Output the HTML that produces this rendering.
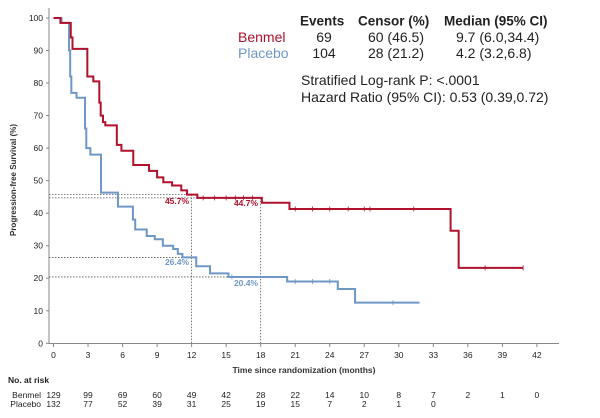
<!DOCTYPE html>
<html><head><meta charset="utf-8"><style>
html,body{margin:0;padding:0;background:#fff;}
svg{display:block;font-family:"Liberation Sans",Arial,sans-serif;}
</style></head><body>
<svg id="s" width="600" height="418" viewBox="0 0 600 418" xmlns="http://www.w3.org/2000/svg">
<g id="g"></g>
<g font-size="13.5" font-weight="bold" fill="#222">
<text x="300" y="25.5">Events</text>
<text x="358" y="25.5">Censor (%)</text>
<text x="444" y="25.5">Median (95% CI)</text>
</g>
<g font-size="14" fill="#222">
<text x="238" y="42" fill="#b0112b">Benmel</text>
<text x="238" y="58" fill="#6f97c6">Placebo</text>
<text x="324" y="42" text-anchor="middle">69</text>
<text x="324" y="58" text-anchor="middle">104</text>
<text x="396" y="42" text-anchor="middle">60 (46.5)</text>
<text x="396" y="58" text-anchor="middle">28 (21.2)</text>
<text x="456" y="42">9.7 (6.0,34.4)</text>
<text x="456" y="58">4.2 (3.2,6.8)</text>
<text x="301" y="85">Stratified Log-rank P: &lt;.0001</text>
<text x="301" y="102">Hazard Ratio (95% CI): 0.53 (0.39,0.72)</text>
</g>
<text transform="translate(16,180) rotate(-90)" text-anchor="middle" font-size="8" font-weight="bold" fill="#333">Progression-free Survival (%)</text>
<text x="304" y="373" text-anchor="middle" font-size="8.5" font-weight="bold" fill="#333">Time since randomization (months)</text>
<text x="8" y="383" font-size="8.5" font-weight="bold" fill="#222">No. at risk</text>
<text x="41" y="398" text-anchor="end" font-size="8.5" fill="#222">Benmel</text>
<text x="41" y="407" text-anchor="end" font-size="8.5" fill="#222">Placebo</text>
</svg>
<script>
var X=function(t){return 53.5+t*11.51;},Y=function(v){return 343.3-v*3.253;};
var g=document.getElementById('g'),h='';
h+='<line x1="49" y1="8" x2="49" y2="344" stroke="#888" stroke-width="1"/>';
h+='<line x1="49" y1="343.5" x2="559" y2="343.5" stroke="#888" stroke-width="1"/>';
for(var v=0;v<=100;v+=10){var y=Y(v);h+='<line x1="46" x2="49" y1="'+y+'" y2="'+y+'" stroke="#888"/><text x="43" y="'+(y+3)+'" text-anchor="end" font-size="8.5" fill="#222">'+v+'</text>';}
var bn=[129,99,69,60,49,42,28,22,14,10,8,7,2,1,0],pl=[132,77,52,39,31,25,19,15,7,2,1,0];
for(var i=0;i<=14;i++){var t=i*3,x=X(t);h+='<line x1="'+x+'" x2="'+x+'" y1="343.5" y2="347" stroke="#888"/><text x="'+x+'" y="358" text-anchor="middle" font-size="8.5" fill="#222">'+t+'</text>';
h+='<text x="'+x+'" y="398" text-anchor="middle" font-size="8.5" fill="#222">'+bn[i]+'</text>';
if(i<pl.length)h+='<text x="'+x+'" y="407" text-anchor="middle" font-size="8.5" fill="#222">'+pl[i]+'</text>';}
function dl(x1,y1,x2,y2){h+='<line x1="'+x1+'" y1="'+y1+'" x2="'+x2+'" y2="'+y2+'" stroke="#555" stroke-width="0.8" stroke-dasharray="1.5,1.5"/>';}
dl(49,Y(45.7),X(12),Y(45.7));dl(49,Y(44.7),X(18),Y(44.7));dl(49,Y(26.4),X(12),Y(26.4));dl(49,Y(20.4),X(18),Y(20.4));
dl(X(12),Y(45.7),X(12),343);dl(X(18),Y(44.7),X(18),343);
function step(pts,c){var d='M'+X(pts[0][0])+','+Y(pts[0][1]);for(var i=1;i<pts.length;i++){d+=' H'+X(pts[i][0])+' V'+Y(pts[i][1]);}
h+='<path d="'+d+'" fill="none" stroke="'+c+'" stroke-width="2"/>';}
var B=[[0,100],[0.6,98.5],[1.5,94],[1.65,90.5],[2.94,82],[3.46,80.5],[3.98,74],[4.1,70],[4.3,68],[4.5,67],[5.5,61],[5.9,59.2],[6.93,54.8],[8.3,53],[9.0,51],[9.54,49.5],[10.3,48.5],[11.1,47],[11.6,45.7],[12.5,44.7],[18.1,43.2],[20.5,41.3],[34.5,34.6],[35.2,23.2],[40.8,23.2]];
var P=[[0,100],[0.7,98.5],[1.35,90],[1.45,82],[1.55,77],[2.0,75.5],[2.74,66],[2.85,60],[3.2,58],[4.13,46.3],[5.6,42],[6.9,38],[7.1,35],[8.1,33],[8.8,32],[9.5,30],[10.4,29],[10.8,27.5],[11.2,26.4],[12.4,23.7],[13.6,21.5],[15.2,20.4],[20.3,19],[24.7,16.7],[26.2,12.5],[31.8,12.5]];
step(P,'#6f97c6');step(B,'#b0112b');
function ticks(ts,pts,c){ts.forEach(function(t){var v=pts[0][1];for(var i=0;i<pts.length;i++){if(pts[i][0]<=t)v=pts[i][1];}var y=Y(v),x=X(t);h+='<line x1="'+x+'" x2="'+x+'" y1="'+(y-2.5)+'" y2="'+(y+2.5)+'" stroke="'+c+'" stroke-width="0.8"/>';});}
ticks([13,14,15,15.8,16.5,17.3,21,22.5,24,25.6,27,27.5,31.3,37.5,40.8],B,'#b0112b');
ticks([15.5,21,22.5,24,29.5],P,'#6f97c6');
h+='<g font-size="8.5" font-weight="bold"><text x="177" y="204" text-anchor="middle" fill="#b0112b">45.7%</text><text x="246" y="206" text-anchor="middle" fill="#b0112b">44.7%</text><text x="177" y="265" text-anchor="middle" fill="#6f97c6">26.4%</text><text x="246" y="286" text-anchor="middle" fill="#6f97c6">20.4%</text></g>';
g.innerHTML=h;
</script>
</body></html>
